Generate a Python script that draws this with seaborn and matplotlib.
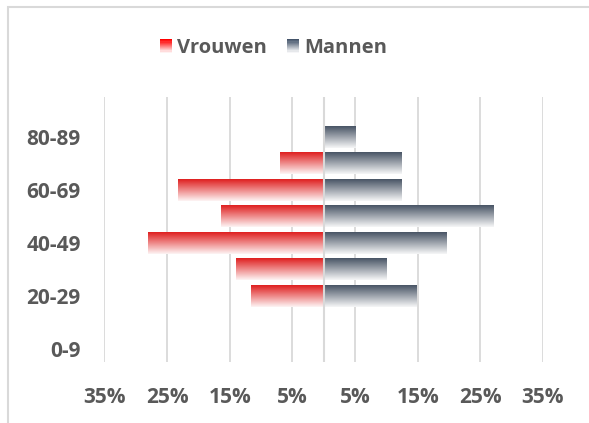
import matplotlib

matplotlib.use("Agg")

import matplotlib.pyplot as plt
import numpy as np
import pandas as pd
import seaborn as sns
from matplotlib.colors import to_rgb
from matplotlib.legend_handler import HandlerBase
from matplotlib.patches import Rectangle

# age groups, bottom to top
ages = ["0-9", "10-19", "20-29", "30-39", "40-49", "50-59", "60-69", "70-79", "80-89", "90-99"]
vrouwen = [0, 0, 11.6, 14.0, 28.1, 16.4, 23.3, 7.0, 0, 0]
mannen = [0, 0, 14.7, 9.9, 19.6, 27.0, 12.3, 12.3, 5.0, 0]
series = ["Vrouwen", "Mannen"]
colors = {"Vrouwen": "#FF0000", "Mannen": "#44546A"}
x_ticks = [-35, -25, -15, -5, 5, 15, 25, 35]
x_labels = ["35%", "25%", "15%", "5%", "5%", "15%", "25%", "35%"]

TEXT = "#595959"
GRID = "#D9D9D9"

df = pd.DataFrame({
    "leeftijd": ages + ages,
    "aandeel": [-v for v in vrouwen] + mannen,
    "geslacht": ["Vrouwen"] * len(ages) + ["Mannen"] * len(ages),
})

sns.set_style("white")
plt.rcParams["font.family"] = ["Open Sans", "DejaVu Sans"]
plt.rcParams["font.weight"] = "bold"

fig = plt.figure(figsize=(5.89, 4.23), dpi=100)
ax = fig.add_axes([0.1774, 0.1442, 0.9219 - 0.1774, 0.7707 - 0.1442])

sns.barplot(
    data=df, x="aandeel", y="leeftijd", hue="geslacht", order=ages[::-1],
    hue_order=series, palette=colors, dodge=False, orient="h", width=0.83,
    legend=False, ax=ax, zorder=2,
)


def gradient(color, n=64):
    # full colour first, fading towards white
    rgb = np.array(to_rgb(color))
    t = np.linspace(0, 0.95, n)[:, None]
    rows = rgb * (1 - t) + np.ones(3) * t
    return rows[:, None, :]


# replace the flat fill of every bar with a top-to-bottom fade
for patch in list(ax.patches):
    bb = patch.get_bbox()
    if abs(bb.width) < 1e-9:
        continue
    fc = patch.get_facecolor()
    y_top, y_bot = min(bb.y0, bb.y1), max(bb.y0, bb.y1)
    img = ax.imshow(
        gradient(fc[:3]), extent=(bb.x0, bb.x1, y_bot, y_top),
        origin="upper", aspect="auto", zorder=2, interpolation="bilinear",
    )
    img.set_clip_path(patch)
    patch.set_facecolor("none")
    patch.set_edgecolor("none")

ax.set_xlim(-35, 35)
ax.set_ylim(len(ages) - 0.5, -0.5)
ax.set_xticks(x_ticks)
ax.set_xticklabels(x_labels)
ylabels = [a if i % 2 == 0 else "" for i, a in enumerate(ages)][::-1]
ax.set_yticks(range(len(ages)))
ax.set_yticklabels(ylabels)
ax.tick_params(axis="x", length=0, pad=18, labelsize=15, labelcolor=TEXT)
ax.tick_params(axis="y", length=0, pad=17, labelsize=15, labelcolor=TEXT)

ax.grid(axis="x", color=GRID, lw=1.3, zorder=0)
ax.grid(axis="y", visible=False)
ax.set_axisbelow(True)
ax.axvline(0, color=GRID, lw=1.5, zorder=3)
sns.despine(ax=ax, left=True, bottom=True)
ax.set_xlabel("")
ax.set_ylabel("")


class GradientHandler(HandlerBase):
    def create_artists(self, legend, orig_handle, xdescent, ydescent,
                       width, height, fontsize, trans):
        rows = gradient(orig_handle.get_facecolor()[:3], n=12)[:, 0, :]
        n = len(rows)
        arts = []
        for i, c in enumerate(rows):
            y = -ydescent + height * (n - 1 - i) / n
            arts.append(Rectangle((-xdescent, y), width, height / n,
                                  facecolor=c, edgecolor="none", transform=trans))
        return arts


handles = [Rectangle((0, 0), 1, 1, facecolor=colors[s]) for s in series]
leg = fig.legend(
    handles, series, loc="center", bbox_to_anchor=(0.465, 1 - 48 / 423),
    ncol=2, frameon=False, fontsize=14.5, handlelength=0.6, handleheight=0.65,
    handletextpad=0.25, columnspacing=1.0,
    handler_map={Rectangle: GradientHandler()},
)
for t in leg.get_texts():
    t.set_color(TEXT)

fig.patches.append(Rectangle((8 / 589, -0.1), 2, 1 - 7 / 423 + 0.1,
                             transform=fig.transFigure, fill=False,
                             edgecolor=GRID, lw=1.5))

fig.savefig("out.png", dpi=100)
plt.close(fig)
